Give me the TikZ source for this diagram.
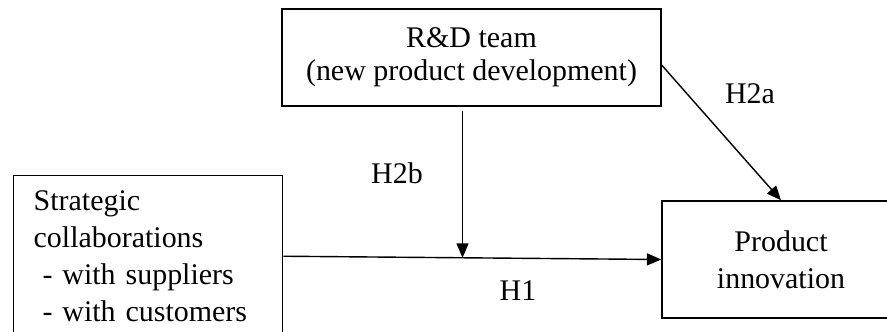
\documentclass[tikz,border=0pt]{standalone}
\usepackage{fontspec}
\setmainfont{Liberation Serif}
\usepackage{tikz}
\usetikzlibrary{arrows.meta,positioning,calc}

\tikzset{
  txt/.style={font=\fontsize{21.3pt}{26.3pt}\selectfont},
  box/.style={draw, line width=1pt, txt},
  link/.style={line width=1pt, -{Triangle[length=0.36cm,width=0.3cm]}}
}

\begin{document}
\begin{tikzpicture}
\useasboundingbox (0,0) rectangle (22.175,8.275);

% Boxes
\node[box, anchor=north west, align=left, text width=5.725cm, inner xsep=0.5cm, inner ysep=0.375cm] (collab) at (0.325,3.9)
  {Strategic\\collaborations\\\hspace*{0.22cm}-~with~suppliers\\\hspace*{0.22cm}-~with~customers};
\node[box, align=center, minimum width=9.475cm, minimum height=2.425cm, font=\fontsize{21.3pt}{23.5pt}\selectfont] (rd) at (11.7875,6.8375)
  {R\&D team\\(new product development)};
\node[box, align=center, minimum width=5.95cm, minimum height=2.925cm] (prod) at (19.525,1.7875)
  {Product\\innovation};

% Arrows
\coordinate (mod) at ($(collab.east)!0.474!(prod.west)$);
\draw[link] (collab.east) -- (prod.west);
\draw[link, shorten <=0.1cm] (rd.south -| mod) -- (mod);
\draw[link] ([yshift=-0.19cm]rd.east) -- (prod.north);

% Labels
\node[txt] (h2a) at (18.75,5.94) {H2a};
\node[txt] (h2b) at (9.925,3.95) {H2b};
\node[txt] (h1) at (12.95,1.0) {H1};
\end{tikzpicture}
\end{document}
